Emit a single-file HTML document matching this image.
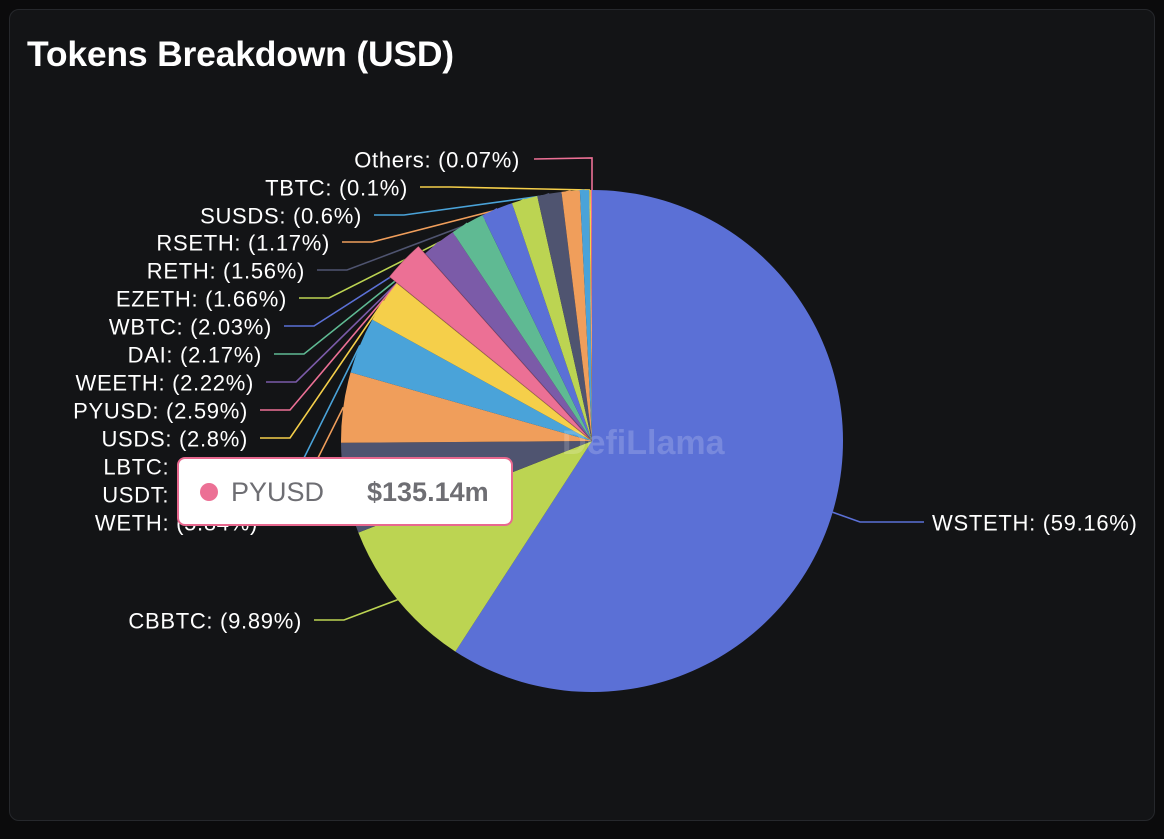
<!DOCTYPE html>
<html><head><meta charset="utf-8">
<style>
html,body{margin:0;padding:0;background:#0b0b0c;width:1164px;height:839px;overflow:hidden;font-family:"Liberation Sans",sans-serif}
#card{position:absolute;left:9px;top:9px;width:1146px;height:812px;background:#131416;border:1px solid #26282c;border-radius:10px;box-sizing:border-box}
#title{position:absolute;left:17px;top:24px;margin:0;color:#fff;font-size:35.5px;font-weight:bold;letter-spacing:-0.2px}
svg{position:absolute;left:0;top:0}
#tip{position:absolute;left:177px;top:457px;width:336px;height:69px;background:#fff;border:2px solid #e8688f;border-radius:8px;box-sizing:border-box}
#tip .dot{position:absolute;left:21px;top:24px;width:18px;height:18px;border-radius:50%;background:#ec7095}
#tip .nm{position:absolute;left:52px;top:18px;font-size:27px;color:#6e6e73}
#tip .val{position:absolute;left:188px;top:18px;font-size:27px;font-weight:bold;color:#6e6e73}
</style></head><body>
<div id="card">
<h1 id="title">Tokens Breakdown (USD)</h1>
</div>
<svg id="chart" width="1164" height="839"></svg>
<div id="tip">
<div class="dot"></div>
<div class="nm">PYUSD</div>
<div class="val">$135.14m</div>
</div>
<script>
const categories=["WSTETH","CBBTC","WETH","USDT","LBTC","USDS","PYUSD","WEETH","DAI","WBTC","EZETH","RETH","RSETH","SUSDS","TBTC","Others"];
const percents=[59.16,9.89,5.84,4.52,3.62,2.8,2.59,2.22,2.17,2.03,1.66,1.56,1.17,0.6,0.1,0.07];
const colors=["#5b70d6","#bcd452","#4f5470","#f09e5b","#4aa3d9","#f5cf4a","#ec7095","#7b5ba8","#5fba93","#5b70d6","#bcd452","#4f5470","#f09e5b","#4aa3d9","#f5cf4a","#ec7095"];
const highlighted="PYUSD";
const labelPos={WSTETH:[932,523,'start'],CBBTC:[302,621,'end'],WETH:[258,523,'end'],USDT:[258,495,'end'],LBTC:[258,467,'end'],USDS:[248,439,'end'],PYUSD:[248,411,'end'],WEETH:[254,383,'end'],DAI:[262,355,'end'],WBTC:[272,327,'end'],EZETH:[287,299,'end'],RETH:[305,271,'end'],RSETH:[330,243,'end'],SUSDS:[362,216,'end'],TBTC:[408,188,'end'],Others:[520,160,'end']};
const cx=592,cy=441,R=251;
const svg=document.getElementById('chart');
const NS="http://www.w3.org/2000/svg";
function pt(a,r){return [cx+r*Math.sin(a),cy-r*Math.cos(a)];}
const total=percents.reduce((a,b)=>a+b,0);
const wm=document.createElementNS(NS,'text');
wm.setAttribute('x',cx-30);wm.setAttribute('y',cy+13);wm.setAttribute('font-size','34');wm.setAttribute('font-weight','bold');wm.setAttribute('fill','rgba(255,255,255,0.18)');
wm.textContent='DefiLlama';


let acc=0;
const slices=[];
categories.forEach((c,i)=>{
 const a0=acc/total*2*Math.PI;acc+=percents[i];const a1=acc/total*2*Math.PI;
 slices.push([c,i,a0,a1]);
});
slices.sort((x,y)=>(x[0]===highlighted)-(y[0]===highlighted));
slices.forEach(([c,i,a0,a1])=>{
 const r=c===highlighted?R+10:R;
 const p0=pt(a0,r),p1=pt(a1,r);
 const large=(a1-a0)>Math.PI?1:0;
 const path=document.createElementNS(NS,'path');
 path.setAttribute('d',`M${cx},${cy}L${p0[0]},${p0[1]}A${r},${r} 0 ${large} 1 ${p1[0]},${p1[1]}Z`);
 path.setAttribute('fill',colors[i]);
 if(c===highlighted){path.setAttribute('stroke','rgba(0,0,0,0.25)');path.setAttribute('stroke-width','1');}
 
 
 svg.appendChild(path);
});
svg.appendChild(wm);
acc=0;
categories.forEach((c,i)=>{
 const a0=acc/total*2*Math.PI;acc+=percents[i];const a1=acc/total*2*Math.PI;
 const am=(a0+a1)/2;
 const lp=labelPos[c];
 const s=pt(am,R);
 const right=lp[2]==='start';
 let e1,e2;
 if(c==='Others'){e1=[cx,158];e2=[lp[0]+14,lp[1]-1];}
 else if(right){e1=[lp[0]-72,lp[1]-1];e2=[lp[0]-8,lp[1]-1];}
 else{e1=[lp[0]+42,lp[1]-1];e2=[lp[0]+12,lp[1]-1];}
 const pl=document.createElementNS(NS,'polyline');
 const start=c==='Others'?[cx,cy-R]:s;
 pl.setAttribute('points',`${start[0]},${start[1]} ${e1[0]},${e1[1]} ${e2[0]},${e2[1]}`);
 pl.setAttribute('fill','none');pl.setAttribute('stroke',colors[i]);pl.setAttribute('stroke-width','1.6');
 
 
 svg.insertBefore(pl,svg.firstChild);
 const t=document.createElementNS(NS,'text');
 t.setAttribute('x',lp[0]);t.setAttribute('y',lp[1]+7.5);t.setAttribute('text-anchor',lp[2]);
 t.setAttribute('font-size','22');t.setAttribute('letter-spacing','0.7');t.setAttribute('fill','#fff');
 t.textContent=c+': ('+percents[i]+'%)';
 
 
 svg.appendChild(t);
});
</script>
</body></html>
